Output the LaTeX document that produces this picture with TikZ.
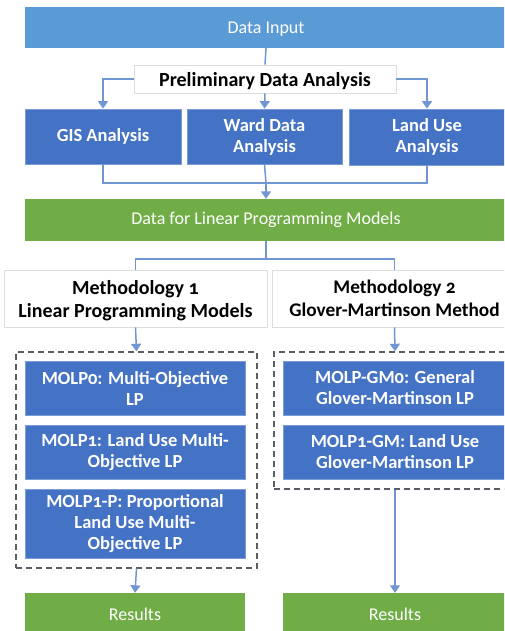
\documentclass[tikz,border=0pt]{standalone}
\usepackage{fontspec}
\setmainfont{Carlito}[Numbers=OldStyle]
\usetikzlibrary{arrows.meta}
\definecolor{topblue}{HTML}{5B9BD5}
\definecolor{boxblue}{HTML}{4472C4}
\definecolor{boxgreen}{HTML}{70AD47}
\definecolor{linkblue}{HTML}{7097D4}
\definecolor{edgegray}{HTML}{DDDDDD}
\definecolor{dashgray}{HTML}{5A5D66}
\tikzset{
  bx/.style={inner sep=2pt, align=center, text=white, font=\fontsize{18.5}{21}\selectfont\bfseries},
  bluebox/.style={bx, fill=boxblue, draw=boxblue!70!white, line width=0.8pt},
  widebox/.style={bx, draw=none, font=\fontsize{18}{21}\selectfont},
  headbox/.style={inner sep=2pt, align=center, fill=white, draw=edgegray, line width=0.6pt, text=black, text depth=0pt},
  dashbox/.style={draw=dashgray, line width=1.4pt, dash pattern=on 6pt off 4pt},
  link/.style={draw=linkblue, line width=1.5pt},
  arr/.style={link, -{Triangle[width=10pt,length=7.5pt]}}
}
\begin{document}
\begin{tikzpicture}[x=1pt,y=-1pt]
\useasboundingbox (0,0) rectangle (504,631);
\clip (0,0) rectangle (504,631);
\fill[white] (0,0) rectangle (504,631);
% top
\node[widebox, fill=topblue, minimum width=482pt, minimum height=41pt, text depth=0pt] (datain) at (266,27.5) {Data Input};
\node[headbox, minimum width=262pt, minimum height=28pt, font=\fontsize{20}{23}\selectfont\bfseries] (prelim) at (265,79) {Preliminary Data Analysis};
\node[bluebox, minimum width=156pt, minimum height=55pt] (gis) at (103,136.5) {GIS Analysis};
\node[bluebox, minimum width=155pt, minimum height=55pt] (ward) at (264.5,136.5) {Ward Data\\Analysis};
\node[bluebox, minimum width=156pt, minimum height=56pt] (land) at (427,137) {Land Use\\Analysis};
\node[widebox, fill=boxgreen, minimum width=482pt, minimum height=42pt] (lpdata) at (266,220) {Data for Linear Programming Models};
% methodology headers
\node[headbox, minimum width=263pt, minimum height=57pt, font=\fontsize{20}{23}\selectfont\bfseries] (m1) at (135.5,298.5) {Methodology 1\\Linear Programming Models};
\node[headbox, minimum width=244pt, minimum height=57pt, font=\fontsize{19.3}{23}\selectfont\bfseries] (m2) at (394.5,298.5) {Methodology 2\\Glover-Martinson Method};
% dashed groups
\node[dashbox, minimum width=241pt, minimum height=216pt] (d1) at (136.5,460) {};
\node[dashbox, minimum width=242pt, minimum height=137pt] (d2) at (395,420.5) {};
% inner boxes
\node[bluebox, minimum width=220pt, minimum height=54pt] (l1) at (135,388) {MOLP0: Multi-Objective\\LP};
\node[bluebox, minimum width=220pt, minimum height=54pt] (l2) at (135,452) {MOLP1: Land Use Multi-\\Objective LP};
\node[bluebox, minimum width=220pt, minimum height=69pt] (l3) at (135,523.5) {MOLP1-P: Proportional\\Land Use Multi-\\Objective LP};
\node[bluebox, minimum width=224pt, minimum height=54pt] (r1) at (395,388) {MOLP-GM0: General\\Glover-Martinson LP};
\node[bluebox, minimum width=224pt, minimum height=54pt] (r2) at (395,452) {MOLP1-GM: Land Use\\Glover-Martinson LP};
% results
\node[widebox, fill=boxgreen, minimum width=220pt, minimum height=42pt] (res1) at (135,614) {Results};
\node[widebox, fill=boxgreen, minimum width=224pt, minimum height=42pt] (res2) at (395,614) {Results};
% connectors
\coordinate (j1) at (266,183);
\coordinate (j2) at (266,259);
\draw[link] (datain.south) -- (prelim.north);
\draw[arr] (prelim.west) -| (gis.north);
\draw[arr] (prelim.south) -- (ward.north);
\draw[arr] (prelim.east) -| (land.north);
\draw[link] (gis.south) |- (j1) -| (land.south);
\draw[link] (ward.south) -- (j1);
\draw[arr] (j1) -- (lpdata.north);
\draw[link] (lpdata.south) -- (j2);
\draw[link] (m1.north) |- (j2) -| (m2.north);
\draw[arr] (m1.south) -- (d1.north);
\draw[arr] (m2.south) -- (d2.north);
\draw[arr] (d1.south) -- (res1.north);
\draw[arr] (d2.south) -- (res2.north);
\end{tikzpicture}
\end{document}
